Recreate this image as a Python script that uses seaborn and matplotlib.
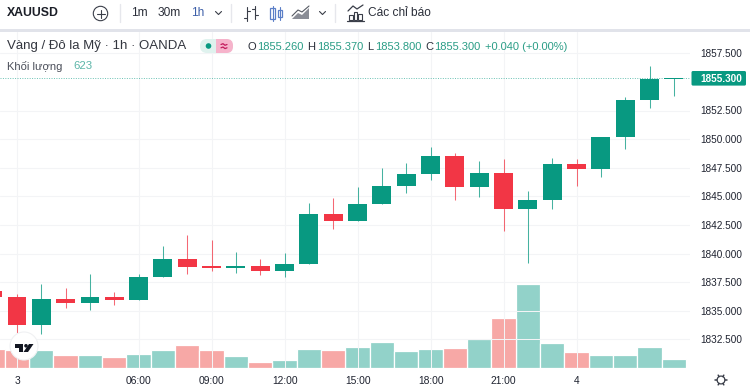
import numpy as np
import pandas as pd
import matplotlib
matplotlib.use("Agg")
import matplotlib.pyplot as plt
from matplotlib.patches import Circle, FancyBboxPatch, Polygon, Rectangle
import seaborn as sns

# ---- data ----
bar_index = list(range(-1, 28))
opens  = [1836.75, 1836.17, 1833.75, 1836.02, 1835.70, 1836.22, 1835.94, 1837.92, 1839.52, 1838.91,
          1838.73, 1838.88, 1838.50, 1839.06, 1843.43, 1842.81, 1844.33, 1845.87, 1846.95, 1848.55,
          1845.81, 1847.01, 1843.86, 1844.68, 1847.85, 1847.39, 1850.16, 1853.39, 1855.26]
highs  = [1836.90, 1836.46, 1837.33, 1836.98, 1838.21, 1836.61, 1838.23, 1840.66, 1841.64, 1841.18,
          1840.16, 1839.49, 1840.02, 1844.44, 1844.88, 1845.84, 1847.50, 1847.88, 1849.34, 1848.76,
          1848.06, 1848.26, 1845.49, 1848.32, 1848.26, 1850.21, 1853.71, 1856.39, 1855.37]
lows   = [1835.90, 1833.02, 1832.94, 1835.21, 1835.06, 1835.47, 1835.94, 1837.92, 1838.23, 1838.44,
          1838.27, 1838.15, 1837.95, 1839.06, 1842.12, 1842.81, 1844.33, 1845.26, 1846.45, 1844.68,
          1844.91, 1841.99, 1839.14, 1843.92, 1845.90, 1846.71, 1849.11, 1852.74, 1853.80]
closes = [1836.17, 1833.75, 1836.02, 1835.70, 1836.22, 1835.94, 1837.95, 1839.52, 1838.85, 1838.73,
          1838.91, 1838.50, 1839.08, 1843.43, 1842.81, 1844.35, 1845.87, 1846.98, 1848.55, 1845.81,
          1847.01, 1843.86, 1844.70, 1847.85, 1847.39, 1850.18, 1853.39, 1855.25, 1855.30]
volumes = [1338, 1269, 1269, 923, 900, 761, 969, 1246, 1569, 1223,
           807, 392, 577, 1338, 1223, 1476, 1822, 1177, 1315, 1407,
           2007, 3484, 5814, 1753, 1130, 900, 900, 1453, 623]
price_ticks = [1832.5, 1835.0, 1837.5, 1840.0, 1842.5, 1845.0, 1847.5, 1850.0, 1852.5, 1857.5]
time_ticks = [0, 5, 8, 11, 14, 17, 20, 23]
time_labels = ["3", "06:00", "09:00", "12:00", "15:00", "18:00", "21:00", "4"]
last_price = 1855.30

GREEN = "#089981"
RED = "#f23645"
VOL_GREEN = "#92d2c9"
VOL_RED = "#f7a8a6"
GRID = "#f3f4f6"
INK = "#1f2330"
UI = "#2a2e39"
FONT = "Liberation Sans"

sns.set_theme(style="white")
plt.rcParams["font.family"] = [FONT, "DejaVu Sans"]

W, H = 750, 387
fig = plt.figure(figsize=(W / 100, H / 100), dpi=100, facecolor="white")
L, R, T, B = 0, 690, 32, 368
ax = fig.add_axes([L / W, 1 - B / H, (R - L) / W, (B - T) / H])
vol = ax.twinx()
ax.set_zorder(2)
vol.set_zorder(1)
ax.patch.set_visible(False)

df = pd.DataFrame({"i": bar_index, "o": opens, "h": highs, "l": lows, "c": closes, "v": volumes})
df["dir"] = np.where(df.c >= df.o, "up", "down")

# volume pane
sns.barplot(data=df, x="i", y="v", hue="dir", hue_order=["up", "down"],
            palette={"up": VOL_GREEN, "down": VOL_RED}, native_scale=True, dodge=False,
            width=1.0, saturation=1, legend=False, ax=vol, linewidth=0.9, edgecolor="white")
px_per_vol = 1 / 69.2
vol.set_ylim(0, (B - T) / px_per_vol)
vol.set_yticks([])
vol.set_ylabel("")
vol.set_xlabel("")

# candles
colors = df.dir.map({"up": GREEN, "down": RED})
ax.vlines(df.i, df.l, df.h, colors=colors, linewidth=0.75, zorder=3, alpha=0.75)
body_lo = df[["o", "c"]].min(axis=1)
body_hi = df[["o", "c"]].max(axis=1)
ax.bar(df.i, body_hi - body_lo, bottom=body_lo, width=0.78, color=colors, linewidth=0, zorder=4)

# scales
x0 = 17.0
step = 24.33
ax.set_xlim((L - x0) / step, (R - x0) / step)
ppu = 11.44
y_ref = 53.3
ax.set_ylim(1857.5 - (B - y_ref) / ppu, 1857.5 + (y_ref - T) / ppu)
vol.set_xlim(ax.get_xlim())

ax.set_xticks(time_ticks, time_labels)
ax.set_yticks(price_ticks, [f"{p:.3f}" for p in price_ticks])
ax.yaxis.tick_right()
ax.tick_params(axis="x", length=0, pad=5.4, labelsize=7.4, labelcolor=INK)
ax.tick_params(axis="y", length=0, pad=7.4, labelsize=7.2, labelcolor=INK)
ax.grid(True, color=GRID, linewidth=0.75)
ax.set_axisbelow(True)
for a in (ax, vol):
    for s in a.spines.values():
        s.set_visible(False)
ax.axhline(last_price, color=GREEN, linewidth=0.7, linestyle=(0, (1, 1.5)), alpha=0.6, zorder=1)

# ---- interface chrome, drawn in a pixel-sized overlay ----
ov = fig.add_axes([0, 0, 1, 1], zorder=5)
ov.set_xlim(0, W)
ov.set_ylim(H, 0)
ov.axis("off")


def txt(x, y, s, size=9.4, color=UI, ha="left", **kw):
    ov.text(x, y, s, fontsize=size, color=color, ha=ha, va="center", **kw)


def ln(xs, ys, color="#3a3e49", lw=0.8):
    ov.plot(xs, ys, color=color, lw=lw, solid_capstyle="round")


def chevron(x, y):
    ln([x - 3, x, x + 3], [y - 1.5, y + 1.5, y - 1.5], lw=0.8)


# toolbar
ov.add_patch(Rectangle((0, 29), W, 3, color="#e1e3ea", lw=0))
txt(7, 13, "XAUUSD", size=8.8, color="#1b1e27", fontweight="bold")
ov.add_patch(Circle((100.5, 13.5), 7.2, fill=False, ec="#3a3e49", lw=0.8))
ln([96.5, 104.5], [13.5, 13.5])
ln([100.5, 100.5], [9.5, 17.5])
for sx in (120, 231, 335):
    ln([sx, sx], [4, 22], color="#e6e7ec", lw=1)
txt(131, 13.5, "1m", size=8.6)
txt(158, 13.5, "30m", size=8.6)
txt(191, 13.5, "1h", size=8.6, color="#3d5fa8")
chevron(218.5, 13)
chevron(322.5, 13)
# bar style icon
ln([247, 247], [7, 21]); ln([243.5, 247], [18, 18]); ln([247, 250], [11, 11])
ln([255, 255], [6, 19]); ln([252, 255], [9, 9]); ln([255, 258], [15, 15])
# candle style icon (selected)
BLUE = "#5b7fc7"
ln([272.5, 272.5], [6, 21], color=BLUE)
ov.add_patch(Rectangle((270, 8), 4.6, 11, fill=False, ec=BLUE, lw=0.9))
ln([279.5, 279.5], [7, 20], color=BLUE)
ov.add_patch(Rectangle((277.5, 10), 4.2, 7, fill=False, ec=BLUE, lw=0.9))
# area style icon
ov.add_patch(Polygon([(292, 19), (298, 13), (302, 15), (309, 8), (309, 19)], color="#8a8d96", lw=0))
ln([292, 298, 302, 309], [16, 10, 12, 6], color="#555962")
# indicators icon
ln([348, 353, 357, 363], [11, 6, 9, 5], lw=0.9)
for bx, bt in ((349, 15), (353.5, 12), (358, 14)):
    ov.add_patch(Rectangle((bx, bt), 3.6, 20 - bt, fill=False, ec="#3a3e49", lw=0.8))
ln([347, 364], [20.5, 20.5], lw=0.9)
txt(368, 13.5, "Các chỉ báo", size=8.6)

# legend rows
txt(7, 46, "Vàng / Đô la Mỹ · 1h · OANDA", size=9.5, color="#33363f")
ov.add_patch(FancyBboxPatch((200, 39), 33, 14, boxstyle="round,pad=0,rounding_size=7", color="#dff2ee", lw=0))
ov.add_patch(FancyBboxPatch((216, 39), 17, 14, boxstyle="round,pad=0,rounding_size=6.5", color="#f6b3cb", lw=0))
ov.add_patch(Rectangle((216, 39), 7, 14, color="#f6b3cb", lw=0))
ov.add_patch(Circle((208.5, 46), 2.8, color=GREEN, lw=0))
ln([221, 223, 225, 227], [44.5, 43.7, 45.3, 44.5], color="#c2185b", lw=0.9)
ln([221, 223, 225, 227], [47.8, 47, 48.6, 47.8], color="#c2185b", lw=0.9)
VAL = "#2a9d86"
for x, s, col in ((247, "O", UI), (257, "1855.260", VAL), (307, "H", UI), (317, "1855.370", VAL),
                  (367, "L", UI), (375, "1853.800", VAL), (425, "C", UI), (434, "1855.300", VAL),
                  (485, "+0.040 (+0.00%)", VAL)):
    txt(x, 46.5, s, size=8.0, color=col)
txt(7, 66, "Khối lượng", size=8.0, color="#4a4e59")
txt(73, 66, "623", size=8.2, color="#5cb5a8")

# last price tag
ov.add_patch(FancyBboxPatch((691.5, 71), 54.5, 14.6, boxstyle="round,pad=0,rounding_size=1.5", color=GREEN, lw=0))
txt(700, 78.7, f"{last_price:.3f}", size=7.2, color="white", fontweight="bold")

# logo
ov.add_patch(Circle((24, 346), 14, color="white", ec="#f0f1f3", lw=0.8))
ov.add_patch(Polygon([(15, 344), (23, 344), (23, 352), (19, 352), (19, 347.7), (15, 347.7)], color="#131722", lw=0))
ov.add_patch(Circle((26, 345.8), 1.8, color="#131722", lw=0))
ov.add_patch(Polygon([(29, 344), (33.5, 344), (28, 352), (23.5, 352)], color="#131722", lw=0))

# settings gear
ov.add_patch(Circle((721, 380), 3.9, fill=False, ec="#3a3e49", lw=0.9))
for ang in np.deg2rad(np.arange(0, 360, 60)):
    ln([721 + 3.9 * np.cos(ang), 721 + 5.6 * np.cos(ang)], [380 + 3.9 * np.sin(ang), 380 + 5.6 * np.sin(ang)], lw=1.1)

fig.savefig("out.png", dpi=100, facecolor="white")
